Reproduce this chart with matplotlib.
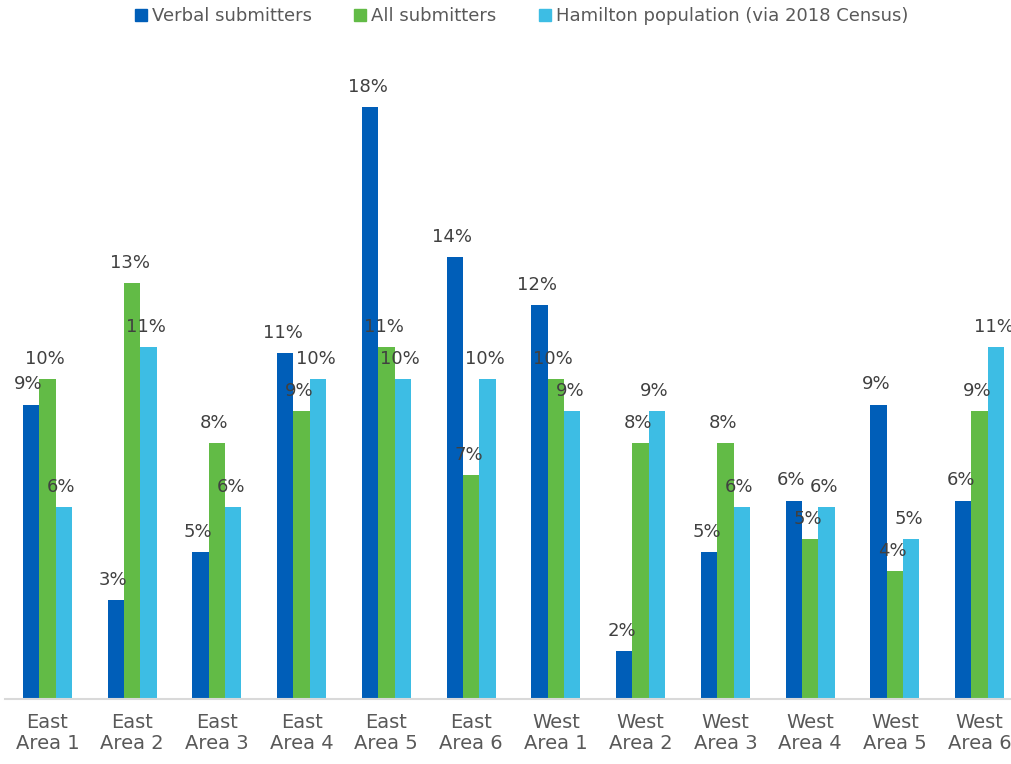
import numpy as np
import matplotlib
matplotlib.use("Agg")
import matplotlib.pyplot as plt

# area names and the three series (percent)
areas = ["East\nArea 1", "East\nArea 2", "East\nArea 3", "East\nArea 4", "East\nArea 5", "East\nArea 6",
         "West\nArea 1", "West\nArea 2", "West\nArea 3", "West\nArea 4", "West\nArea 5", "West\nArea 6"]
verbal = [9.2, 3.1, 4.6, 10.8, 18.5, 13.8, 12.3, 1.5, 4.6, 6.2, 9.2, 6.2]
all_subs = [10, 13, 8, 9, 11, 7, 10, 8, 8, 5, 4, 9]
hamilton = [6, 11, 6, 10, 10, 10, 9, 9, 6, 6, 5, 11]

series = [
    ("Verbal submitters", verbal, "#005EB8"),
    ("All submitters", all_subs, "#62BB46"),
    ("Hamilton population (via 2018 Census)", hamilton, "#3DBDE4"),
]

plt.rcParams["font.family"] = ["DejaVu Sans"]
text_col = "#595959"

fig = plt.figure(figsize=(10.12, 7.64), dpi=100)
ax = fig.add_axes([5 / 1012, 65 / 764, 1017 / 1012, 640 / 764])

x = np.arange(len(areas))
w = 0.193
for i, (name, vals, col) in enumerate(series):
    pos = x + (i - 1) * w
    bars = ax.bar(pos, vals, width=w, color=col, label=name)
    for b, v in zip(bars, vals):
        ax.text(b.get_x() + b.get_width() / 2 - 0.03, v + 0.35, f"{round(v):.0f}%",
                ha="center", va="bottom", fontsize=13, color="#404040")

ax.set_xlim(-0.5, len(areas) - 0.5)
ax.set_ylim(0, 20)
ax.set_yticks([])
ax.set_xticks(x)
ax.set_xticklabels(areas, fontsize=14, color=text_col, linespacing=1.15)
ax.tick_params(axis="x", length=0, pad=10)
for s in ["top", "right", "left"]:
    ax.spines[s].set_visible(False)
ax.spines["bottom"].set_color("#D9D9D9")
ax.spines["bottom"].set_linewidth(1.5)

handles = [plt.Line2D([], [], marker="s", linestyle="", markersize=8, color=c) for _, _, c in series]
fig.legend(handles, [s[0] for s in series], loc="center", bbox_to_anchor=(520 / 1012, 1 - 16 / 764),
           ncol=3, frameon=False, fontsize=13, handletextpad=0.1, columnspacing=2.2,
           labelcolor=text_col, handlelength=1.0)

fig.savefig("out.png", dpi=100)
